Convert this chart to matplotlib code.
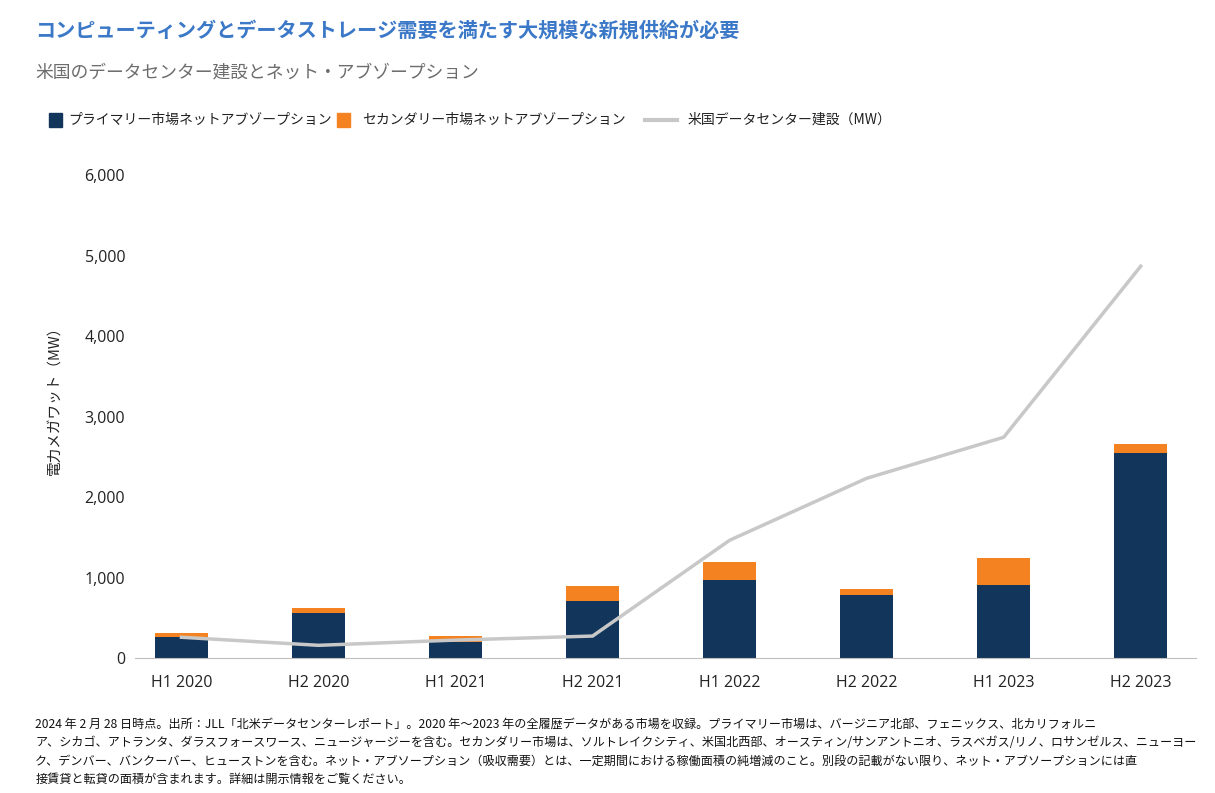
import matplotlib
matplotlib.use("Agg")
from matplotlib import pyplot as plt
from matplotlib.patches import Rectangle
from matplotlib.lines import Line2D
from matplotlib.ticker import FuncFormatter
import numpy as np

plt.rcParams['font.family'] = ['Noto Sans CJK JP', 'DejaVu Sans']

# data (MW)
periods = ['H1 2020', 'H2 2020', 'H1 2021', 'H2 2021', 'H1 2022', 'H2 2022', 'H1 2023', 'H2 2023']
primary = [260, 560, 200, 710, 970, 785, 905, 2545]
secondary = [50, 60, 75, 185, 225, 75, 335, 115]
construction = [260, 160, 225, 275, 1465, 2235, 2745, 4870]

NAVY = '#12355b'
ORANGE = '#f58220'
GREY = '#c8c8c8'
BLUE = '#3b78c7'

title = 'コンピューティングとデータストレージ需要を満たす大規模な新規供給が必要'
subtitle = '米国のデータセンター建設とネット・アブゾープション'
legend_labels = ['プライマリー市場ネットアブゾープション', 'セカンダリー市場ネットアブゾープション', '米国データセンター建設（MW）']
ylabel = '電力メガワット（MW）'
footnote = ('2024 年 2 月 28 日時点。出所：JLL「北米データセンターレポート」。2020 年～2023 年の全履歴データがある市場を収録。プライマリー市場は、バージニア北部、フェニックス、北カリフォルニ\n'
            'ア、シカゴ、アトランタ、ダラスフォースワース、ニュージャージーを含む。セカンダリー市場は、ソルトレイクシティ、米国北西部、オースティン/サンアントニオ、ラスベガス/リノ、ロサンゼルス、ニューヨー\n'
            'ク、デンバー、バンクーバー、ヒューストンを含む。ネット・アブソープション（吸収需要）とは、一定期間における稼働面積の純増減のこと。別段の記載がない限り、ネット・アブソープションには直\n'
            '接賃貸と転貸の面積が含まれます。詳細は開示情報をご覧ください。')

fig = plt.figure(figsize=(12.15, 7.93), dpi=100)
ax = fig.add_axes([0.111, 0.170, 0.873, 0.609])

x = np.arange(len(periods))
ax.bar(x, primary, width=0.39, color=NAVY, zorder=2)
ax.bar(x, secondary, width=0.39, bottom=primary, color=ORANGE, zorder=2)
ax.plot(x, construction, color=GREY, lw=2.5, zorder=3)

ax.set_xlim(-0.34, 7.4)
ax.set_ylim(0, 6000)
ax.set_yticks(range(0, 6001, 1000))
ax.yaxis.set_major_formatter(FuncFormatter(lambda v, p: f'{int(v):,}'))
ax.set_xticks(x)
ax.set_xticklabels(periods)
for s in ['top', 'right', 'left']:
    ax.spines[s].set_visible(False)
ax.spines['bottom'].set_color('#bfbfbf')
ax.tick_params(axis='both', length=0, labelsize=11.5, colors='#222222')
ax.tick_params(axis='y', pad=7)
ax.tick_params(axis='x', pad=12)
for t in ax.get_xticklabels() + ax.get_yticklabels():
    t.set_family(['Open Sans', 'Noto Sans CJK JP'])

fig.text(0.046, 0.50, ylabel, rotation=90, ha='center', va='center', fontsize=10.5, color='#222222')

fig.text(0.029, 0.962, title, fontsize=14.5, color=BLUE, fontweight='bold', va='center')
fig.text(0.029, 0.909, subtitle, fontsize=12.8, color='#6d6d6d', va='center')

# legend drawn by hand to keep spacing like the reference
ly = 1 - 120 / 793
fs = 10
fig.add_artist(Rectangle((49 / 1215, ly - 7 / 793), 13 / 1215, 14 / 793, color=NAVY, transform=fig.transFigure))
fig.text(68 / 1215, ly, legend_labels[0], fontsize=fs, va='center', color='#222222')
fig.add_artist(Rectangle((337 / 1215, ly - 7 / 793), 13 / 1215, 14 / 793, color=ORANGE, transform=fig.transFigure))
fig.text(362 / 1215, ly, legend_labels[1], fontsize=fs, va='center', color='#222222')
fig.add_artist(Line2D([645 / 1215, 677 / 1215], [ly, ly], color=GREY, lw=3, transform=fig.transFigure))
fig.text(688 / 1215, ly, legend_labels[2], fontsize=fs, va='center', color='#222222')

fig.text(0.029, 0.095, footnote, fontsize=8.7, va='top', linespacing=1.55, color='#111111')

fig.savefig('out.png', dpi=100)
